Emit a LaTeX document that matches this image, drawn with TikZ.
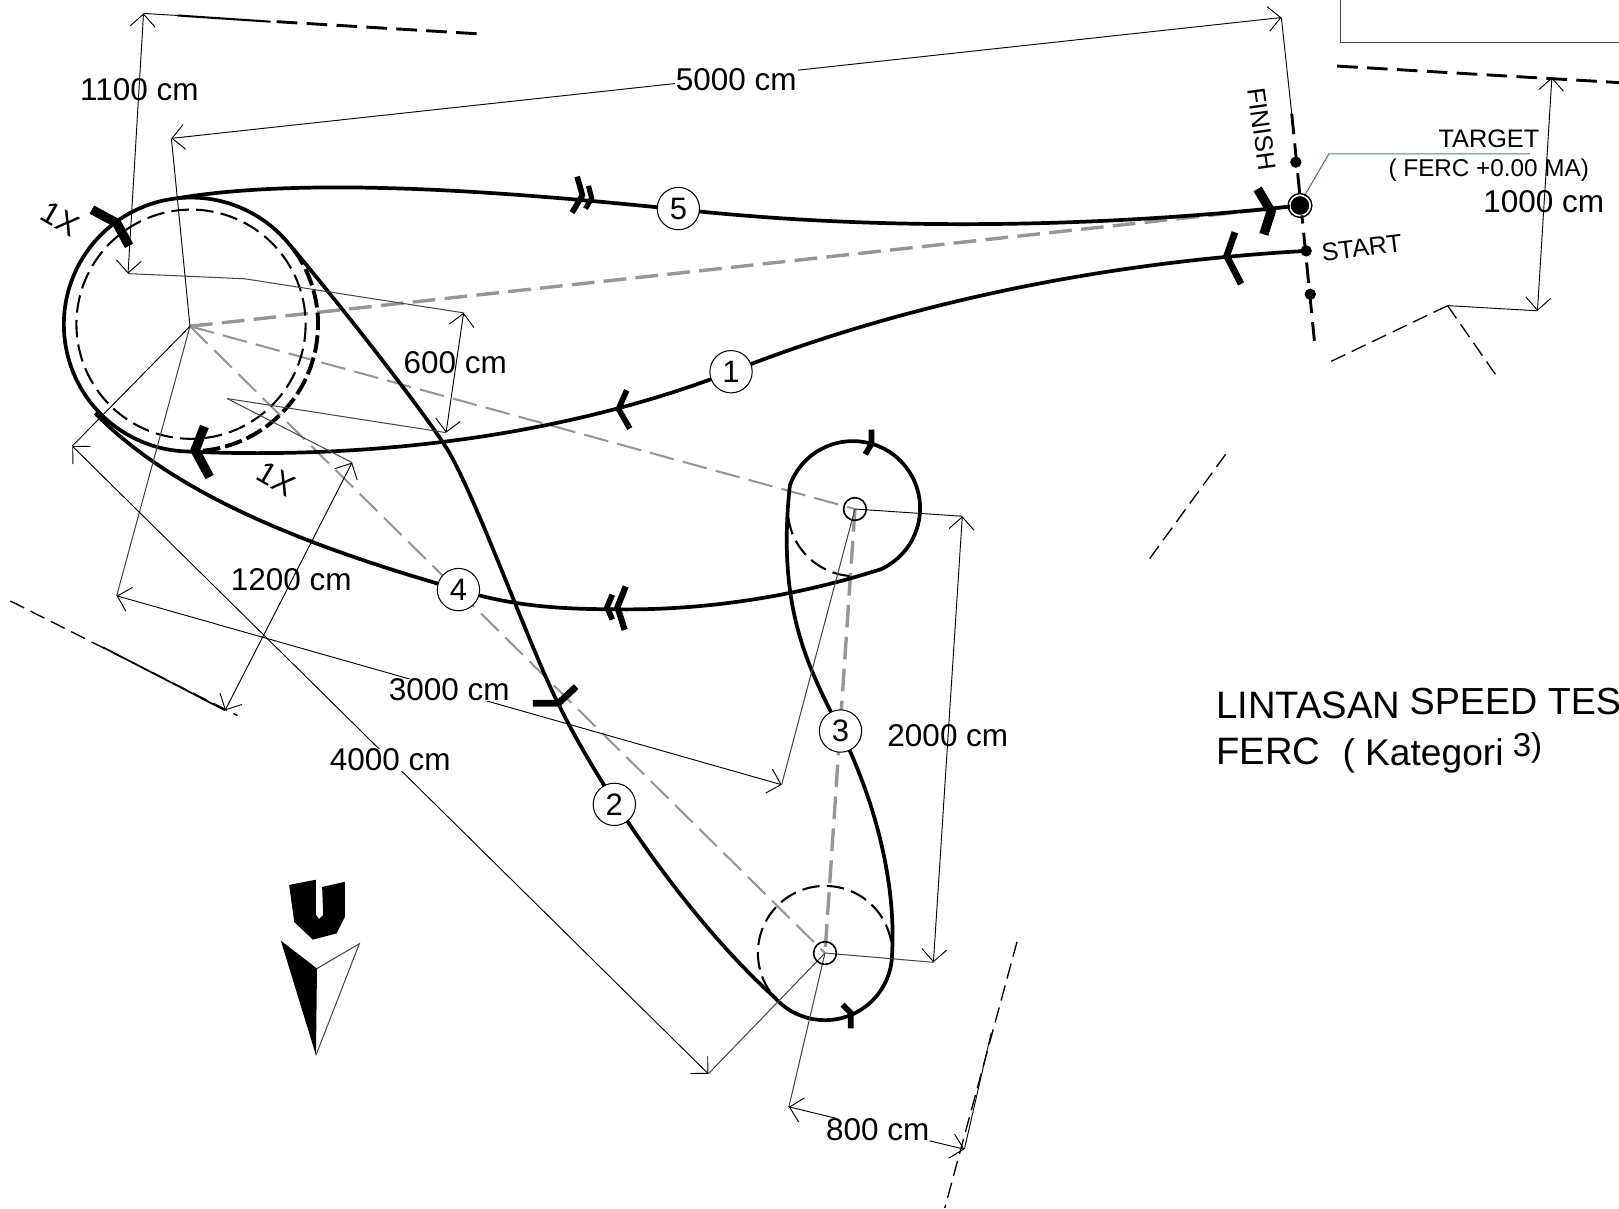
\documentclass[tikz,border=0pt]{standalone}
\usepackage{fontspec}
\setmainfont{Liberation Sans}
\usetikzlibrary{arrows.meta}
\definecolor{dimgray}{RGB}{70,70,70}
\definecolor{dashgray}{RGB}{150,150,152}
\definecolor{leadgreen}{RGB}{70,135,100}
\tikzset{
  thinline/.style={line width=0.9pt,black},
  greyline/.style={line width=1pt,dimgray},
  dimline/.style={line width=0.9pt,black,{Straight Barb[length=12pt,width=24pt,line width=0.9pt]}-{Straight Barb[length=12pt,width=24pt,line width=0.9pt]}},
  track/.style={line width=3.6pt,black,line join=round},
  chevron/.style={line width=#1,black,line join=miter},
  chevron/.default=6pt,
  thinring/.style={line width=2pt,dash pattern=on 17pt off 7pt,black},
  thickring/.style={line width=3.8pt,dash pattern=on 17pt off 5pt,black},
  hairdash/.style={line width=1.3pt,dash pattern=on 15pt off 7pt,black},
  boundary/.style={line width=2.8pt,dash pattern=on 20pt off 9pt,black},
  greydashA/.style={line width=3.3pt,dashgray,dash pattern=on 22pt off 9pt},
  greydashB/.style={line width=2pt,dashgray,dash pattern=on 24pt off 9pt},
  numnode/.style={circle,draw=black,line width=1pt,fill=white,minimum size=41pt,inner sep=0pt,font=\fontsize{30}{31}\selectfont},
  dimtext/.style={inner sep=0pt,font=\fontsize{30.5}{31}\selectfont},
  smalltext/.style={inner sep=0pt,font=\fontsize{24.5}{25}\selectfont},
  hubring/.style={circle,draw=black,line width=1.6pt,minimum size=22pt,inner sep=0pt},
  dotmark/.style={circle,fill=black,minimum size=11pt,inner sep=0pt},
}
\begin{document}
\begin{tikzpicture}[x=1pt,y=-1pt]
\useasboundingbox (0,0) rectangle (1568,1170);
\clip (0,0) rectangle (1568,1170);
% named points
\coordinate (cA) at (184,316);
\coordinate (cRing) at (185,314);
\coordinate (cT) at (828,493);
\coordinate (cB) at (799,923);
\coordinate (tgt) at (1259,199);

% grey dashed guides
\draw[greydashA] (cA) -- (tgt);
\draw[greydashB] (cA) -- (cT);
\draw[greydashB] (cA) -- (cB);
\draw[greydashA] (cT) -- (cB);

% dashed rings
\draw[thinring] (cRing) circle (111);
\draw[thickring] (cRing) ++(-36:123) arc[start angle=-36,end angle=88,radius=123];
\draw[thinring] (cB) ++(-10:65) arc[start angle=-10,end angle=-225,radius=65];
\draw[thinring] (cT) ++(-187:65) arc[start angle=-187,end angle=-268,radius=65];

% track: finish, big circle, start
\draw[track] (tgt) .. controls (1050,222) and (850,222) .. (679,205)
  .. controls (560,193) and (320,167) .. (172,192)
  arc[start angle=-96,end angle=-268,radius=123]
  .. controls (350,445) and (540,425) .. (708,360)
  .. controls (860,300) and (1050,255) .. (1265,243);
% track: circle top, long leg, both small loops, return leg
\draw[track] (172,192) arc[start angle=-96,end angle=-40,radius=123]
  .. controls (325,290) and (400,385) .. (430,430)
  .. controls (458,472) and (512,625) .. (540,680)
  .. controls (570,743) and (655,880) .. (750.7,966.5)
  arc[start angle=-222,end angle=-360,radius=65]
  .. controls (868,850) and (845,770) .. (814,708)
  .. controls (783,646) and (752,590) .. (765,470)
  arc[start angle=-160,end angle=65,radius=65]
  .. controls (770,578) and (680,592) .. (590,590)
  .. controls (520,590) and (480,582) .. (444,571)
  .. controls (300,530) and (170,480) .. (92,400);

% chevrons on the track
\draw[chevron=9pt] (89,203) -- (113,216) -- (125,238);
\draw[chevron=9pt] (198,413) -- (189,436) -- (203,462);
\draw[chevron=9pt] (1218,183) -- (1231,205) -- (1224,227);
\draw[chevron=6.5pt] (1196,225) -- (1188,248) -- (1202,275);
\draw[chevron=5.5pt] (607,378) -- (599,396) -- (610,415);
\draw[chevron=5.5pt] (559,171) -- (564,189) -- (554,206);
\draw[chevron=5pt] (570,180) -- (573,192) -- (567,202);
\draw[chevron=6pt] (606,568) -- (598,588) -- (605,610);
\draw[chevron=5.5pt] (593,576) -- (588,588) -- (593,600);
\draw[chevron=6.5pt] (516,681) -- (541,681) -- (558,665);
\draw[chevron=5.5pt] (844,416) -- (844,430) -- (838,440);
\draw[chevron=5.5pt] (816,973) -- (824,981) -- (824,996);

% construction lines
\draw[greyline] (124,265) -- (237,270) -- (449,303);
\draw[greyline] (220,386) -- (432,419);
\draw[greyline] (220,386) -- (341,448);
\draw[thinline] (166,134) -- (cA);
\draw[greyline] (113,577) -- (cA);
\draw[thinline] (70,432) -- (cA);
\draw[thinline] (932,500) -- (cT);
\draw[greyline] (757,760) -- (cT);
\draw[greyline] (904,932) -- (cB);
\draw[greyline] (686,1040) -- (cB);
\draw[greyline] (764,1072) -- (cB);
\draw[thinline] (1489,301) -- (1402,296);
\draw[thinline] (1241,17) -- (1251,110);

% hub rings
\node[hubring] (hubT) at (cT) {};
\node[hubring] (hubB) at (cB) {};

% dimensions
\draw[dimline] (139,13) -- (124,265);
\draw[dimline] (166,134) -- (1241,17);
\draw[dimline] (449,303) -- (432,419);
\draw[dimline] (1503,75) -- (1489,301);
\draw[dimline] (341,448) -- (218,688);
\draw[dimline] (113,577) -- (757,760);
\draw[dimline] (70,432) -- (686,1040);
\draw[dimline] (932,500) -- (904,932);
\draw[dimline] (764,1072) -- (934,1113);

% boundaries
\draw[thinline] (139,13) -- (172,15);
\draw[line width=2pt] (172,15) -- (262,21);
\draw[boundary] (268,21) -- (467,33);
\draw[boundary] (1295,64) -- (1568,80);
\draw[boundary] (1251,110) -- (1273,330);
\draw[hairdash] (1402,296) -- (1287,351);
\draw[hairdash] (1402,296) -- (1450,365);
\draw[hairdash] (1187,440) -- (1112,543);
\draw[hairdash] (10,582) -- (230,693);
\draw[line width=1.6pt] (100,627) -- (218,688);
\draw[hairdash] (985,912) -- (915,1170);
\draw[thinline] (960,1000) -- (934,1113);
\draw[line width=1.1pt,dimgray] (1298,0) -- (1298,41) -- (1568,41);

% target and marks
\draw[leadgreen,line width=1.1pt] (1262,192) -- (1287,149) -- (1482,149);
\node[dotmark] (dotF) at (1255,157) {};
\node[dotmark] (dotS) at (1265,243) {};
\node[dotmark] (dotE) at (1269,285) {};
\node[circle,fill=black,draw=white,line width=0.8pt,minimum size=19pt,inner sep=0pt] (tgtdot) at (tgt) {};
\draw[black,line width=1.4pt] (tgt) circle (11.5);

% numbered nodes
\node[numnode] (n1) at (708,360) {1};
\node[numnode] (n2) at (595,779) {2};
\node[numnode] (n3) at (814,708) {3};
\node[numnode] (n4) at (444,571) {4};
\node[numnode] (n5) at (657,202) {5};

% dimension labels
\node[dimtext] (d1100) at (135,87) {1100 cm};
\node[dimtext,fill=white,inner xsep=1pt] (d5000) at (713,77) {5000 cm};
\node[dimtext] (d600) at (441,351) {600 cm};
\node[dimtext] (d1000) at (1495,195) {1000 cm};
\node[dimtext] (d1200) at (282,561) {1200 cm};
\node[dimtext,fill=white,inner xsep=1pt] (d3000) at (435,668) {3000 cm};
\node[dimtext,fill=white,inner xsep=1pt] (d4000) at (378,736) {4000 cm};
\node[dimtext] (d2000) at (918,712) {2000 cm};
\node[dimtext,fill=white,inner xsep=1pt] (d800) at (850,1094) {800 cm};

% other text
\node[smalltext,rotate=-82] (tfin) at (1222,125) {FINISH};
\node[smalltext,rotate=7] (tsta) at (1319,240) {START};
\node[smalltext,anchor=east] (ttar) at (1491,134) {TARGET};
\node[inner sep=0pt,anchor=east,font=\fontsize{23.5}{25}\selectfont] (tfer) at (1539,165) {( FERC +0.00 MA)};
\node[inner sep=0pt,rotate=-30,font=\fontsize{30}{31}\selectfont] (x1) at (58,212) {1X};
\node[inner sep=0pt,rotate=-30,font=\fontsize{30}{31}\selectfont] (x2) at (268,464) {1X};
\node[inner sep=0pt,anchor=base west,font=\fontsize{37}{38}\selectfont] (t1a) at (1178,696) {LINTASAN};
\node[inner sep=0pt,anchor=base west,font=\fontsize{36.5}{38}\selectfont] (t1b) at (1365,692) {SPEED TES};
\node[inner sep=0pt,anchor=base west,font=\fontsize{37}{38}\selectfont] (t2a) at (1178,740) {FERC};
\node[inner sep=0pt,anchor=base west,font=\fontsize{36}{38}\selectfont] (t2b) at (1300,741) {( Kategori};
\node[inner sep=0pt,anchor=base west,font=\fontsize{32}{33}\selectfont] (t2c) at (1465,733) {3)};

% north arrow
\fill[black] (280,857) -- (306,852) -- (306,886) -- (309,890) -- (313,886) -- (312,859) -- (334,854) -- (334,888) -- (326,904) -- (303,910) -- (285,893) -- cycle;
\fill[black] (272,911) -- (307,938) -- (306,1022) -- cycle;
\draw[greyline] (307,938) -- (348,914) -- (306,1022);
\end{tikzpicture}
\end{document}
